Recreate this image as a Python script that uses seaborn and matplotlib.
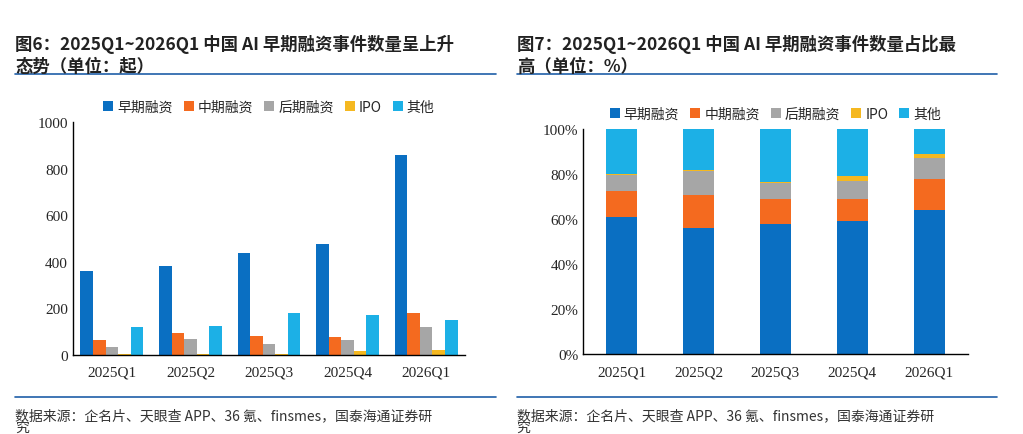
import numpy as np
import pandas as pd
import matplotlib
matplotlib.use("Agg")
import matplotlib.pyplot as plt
from matplotlib.lines import Line2D
from matplotlib.ticker import FuncFormatter
import seaborn as sns

quarters = ["2025Q1", "2025Q2", "2025Q3", "2025Q4", "2026Q1"]
series = ["早期融资", "中期融资", "后期融资", "IPO", "其他"]
early = [360, 382, 437, 476, 860]
mid = [65, 95, 80, 75, 180]
late = [35, 68, 45, 63, 120]
ipo = [3, 2, 3, 15, 22]
other = [120, 125, 178, 170, 148]

early_pct = [61, 56, 58, 59, 64]
mid_pct = [11.5, 14.5, 11, 10, 14]
late_pct = [7, 11, 7, 8, 9]
ipo_pct = [0.5, 0.3, 0.5, 2, 2]
other_pct = [20, 18.2, 23.5, 21, 11]

colors = ["#0A6FC2", "#F46A1F", "#A6A6A6", "#F5B820", "#1CB0E6"]

sns.set_style("white")
plt.rcParams['font.family'] = ['Liberation Serif', 'Noto Sans CJK SC']
cjk = ['Noto Sans CJK SC', 'DejaVu Sans']

fig = plt.figure(figsize=(10.23, 4.35), dpi=100)
ax1 = fig.add_axes([0.071, 0.182, 0.384, 0.535])
ax2 = fig.add_axes([0.570, 0.184, 0.376, 0.517])

# left: grouped bars
df = pd.DataFrame({"季度": quarters * 5,
                   "类型": sum([[s] * 5 for s in series], []),
                   "数量": early + mid + late + ipo + other})
sns.barplot(data=df, x="季度", y="数量", hue="类型", palette=colors, ax=ax1,
            width=0.8, gap=0, saturation=1, linewidth=0)
ax1.set_ylim(0, 1000)
ax1.set_yticks(range(0, 1001, 200))

# right: stacked percentage bars
stack = np.cumsum([early_pct, mid_pct, late_pct, ipo_pct, other_pct], axis=0)
for i in range(4, -1, -1):
    sns.barplot(x=quarters, y=stack[i], color=colors[i], ax=ax2, width=0.4,
                saturation=1, label=series[i], linewidth=0)
ax2.set_ylim(0, 100)
ax2.set_yticks(range(0, 101, 20))
ax2.yaxis.set_major_formatter(FuncFormatter(lambda v, p: f"{v:.0f}%"))

for ax in (ax1, ax2):
    ax.set_xlabel("")
    ax.set_ylabel("")
    for s in ("top", "right"):
        ax.spines[s].set_visible(False)
    for s in ("left", "bottom"):
        ax.spines[s].set_color("black")
        ax.spines[s].set_linewidth(1)
    ax.set_xlim(-0.5, 4.5)
    ax.set_xticks(np.arange(-0.5, 5, 1), minor=False)
    ax.set_xticklabels([])
    ax.set_xticks(range(5), minor=True)
    ax.set_xticklabels(quarters, minor=True, fontsize=11)
    ax.tick_params(axis="x", which="minor", length=0, pad=8)
    ax.tick_params(axis="x", which="major", length=4, direction="in", color="black")
    ax.tick_params(axis="y", length=4, direction="in", color="black", labelsize=11)
    h, l = ax.get_legend_handles_labels()
    order = [l.index(s) for s in series]
    ax.legend([h[k] for k in order], series, loc="lower center", bbox_to_anchor=(0.5, 1.0),
              ncol=5, frameon=False, prop={'family': cjk, 'size': 10},
              handlelength=0.7, handleheight=0.7, handletextpad=0.3, columnspacing=0.8,
              borderaxespad=0.2)

title_kw = dict(fontsize=12.5, fontweight="bold", family=cjk, color="#222222")
fig.text(0.015, 0.885, "图6：2025Q1~2026Q1 中国 AI 早期融资事件数量呈上升", **title_kw)
fig.text(0.015, 0.835, "态势（单位：起）", **title_kw)
fig.text(0.505, 0.885, "图7：2025Q1~2026Q1 中国 AI 早期融资事件数量占比最", **title_kw)
fig.text(0.505, 0.835, "高（单位：%）", **title_kw)

for x0, x1 in ((0.015, 0.485), (0.505, 0.975)):
    fig.add_artist(Line2D([x0, x1], [0.828, 0.828], color="#1F5FA8", lw=1.2))
    fig.add_artist(Line2D([x0, x1], [0.085, 0.085], color="#1F5FA8", lw=1.2))

src = "数据来源：企名片、天眼查 APP、36 氪、finsmes，国泰海通证券研"
for x in (0.015, 0.505):
    fig.text(x, 0.035, src, fontsize=10, family=cjk, color="#333333")
    fig.text(x, 0.0, "究", fontsize=10, family=cjk, color="#333333", va="bottom")

fig.savefig("out.png", dpi=100)
